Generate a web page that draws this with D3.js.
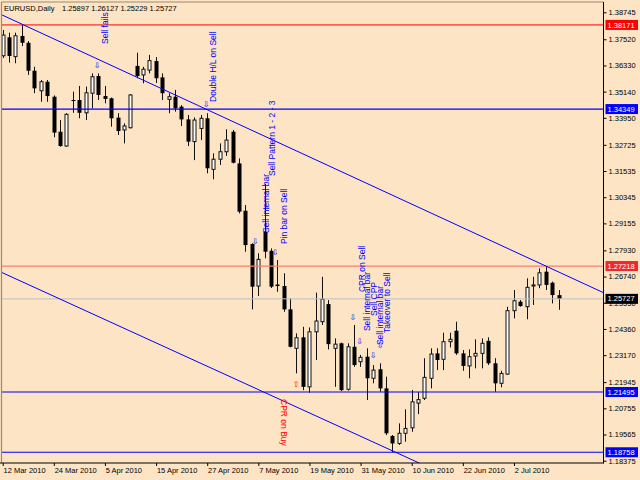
<!DOCTYPE html>
<html><head><meta charset="utf-8">
<script src="https://cdn.jsdelivr.net/npm/d3@7"></script>
<style>html,body{margin:0;padding:0;background:#FDE4C4;} svg{display:block;font-family:"Liberation Sans",Arial,sans-serif;}</style>
</head><body><svg id="c" width="640" height="480"></svg>
<script>
// ---------- data ----------
const symbolTitle = "EURUSD,Daily";
const lastQuote = ["1.25897", "1.26127", "1.25229", "1.25727"];
const opens = [1.3677,1.3761,1.3673,1.3767,1.3736,1.3609,1.3518,1.3559,1.3491,1.3332,
  1.3267,1.3476,1.3476,1.3418,1.3507,1.3585,1.3494,1.3484,1.3396,1.3340,
  1.3350,1.3631,1.3590,1.3612,1.3653,1.3579,1.3479,1.3491,1.3446,1.3388,
  1.3287,1.3347,1.3393,1.3161,1.3207,1.3241,1.3332,1.3188,1.2973,1.2822,
  1.2631,1.2878,1.2791,1.2638,1.2631,1.2525,1.2348,1.2398,1.2173,1.2423,
  1.2469,1.2549,1.2348,1.2371,1.2162,1.2355,1.2287,1.2310,1.2212,1.2253,
  1.2166,1.1950,1.1916,1.1962,1.1987,1.2099,1.2121,1.2212,1.2325,1.2298,
  1.2378,1.2428,1.2325,1.2268,1.2313,1.2325,1.2382,1.2280,1.2189,1.2231,
  1.2519,1.2560,1.2537,1.2631,1.2636,1.2696,1.2646,1.25897];
const highs = [1.3794,1.3782,1.3782,1.3817,1.3744,1.3627,1.3567,1.3567,1.3497,1.3385,
  1.3416,1.3514,1.3540,1.3537,1.3597,1.3597,1.3540,1.3487,1.3416,1.3370,
  1.3503,1.3691,1.3627,1.3681,1.3671,1.3597,1.3507,1.3522,1.3453,1.3408,
  1.3397,1.3408,1.3416,1.3234,1.3279,1.3343,1.3340,1.3211,1.2999,1.2825,
  1.2780,1.3095,1.2802,1.2749,1.2689,1.2575,1.2416,1.2446,1.2443,1.2601,
  1.2673,1.2567,1.2393,1.2374,1.2371,1.2454,1.2318,1.2348,1.2272,1.2280,
  1.2219,1.1954,1.2007,1.2071,1.2159,1.2149,1.2303,1.2348,1.2348,1.2419,
  1.2419,1.2469,1.2340,1.2343,1.2389,1.2393,1.2398,1.2303,1.2246,1.2537,
  1.2613,1.2567,1.2666,1.2673,1.2711,1.2722,1.2651,1.26127];
const lows = [1.3667,1.3646,1.3643,1.3721,1.3590,1.3507,1.3468,1.3468,1.3307,1.3264,
  1.3264,1.3418,1.3393,1.3385,1.3438,1.3476,1.3461,1.3355,1.3317,1.3279,
  1.3347,1.3575,1.3552,1.3597,1.3553,1.3476,1.3416,1.3423,1.3358,1.3267,
  1.3203,1.3294,1.3143,1.3116,1.3181,1.3222,1.3188,1.2961,1.2787,1.2525,
  1.2586,1.2757,1.2622,1.2605,1.2514,1.2352,1.2234,1.2158,1.2146,1.2295,
  1.2454,1.2343,1.2173,1.2154,1.2156,1.2264,1.2264,1.2113,1.2189,1.2151,
  1.1954,1.1876,1.1909,1.1924,1.1969,1.2049,1.2113,1.2166,1.2249,1.2249,
  1.2352,1.2318,1.2246,1.2212,1.2257,1.2257,1.2272,1.2151,1.2171,1.2227,
  1.2484,1.2537,1.2480,1.2545,1.2621,1.2613,1.2552,1.25229];
const closes = [1.3771,1.3676,1.3768,1.3736,1.3609,1.3529,1.3559,1.3494,1.3328,1.3267,
  1.3411,1.3474,1.3418,1.3509,1.3582,1.3499,1.3481,1.3393,1.3335,1.3358,
  1.3499,1.3585,1.3616,1.3655,1.3575,1.3507,1.3491,1.3438,1.3388,1.3287,
  1.3385,1.3393,1.3166,1.3207,1.3241,1.3294,1.3191,1.2969,1.2817,1.2628,
  1.2752,1.2787,1.2628,1.2631,1.2525,1.2355,1.2396,1.2173,1.2423,1.2472,
  1.2571,1.2367,1.2367,1.2158,1.2355,1.2272,1.2307,1.2212,1.2249,1.2166,
  1.1962,1.1916,1.1962,1.1984,1.2105,1.2115,1.2216,1.2322,1.2295,1.2378,
  1.2389,1.2325,1.2268,1.2310,1.2325,1.2371,1.2280,1.2189,1.2234,1.2519,
  1.2564,1.2540,1.2625,1.2636,1.2691,1.2636,1.2590,1.25727];
// date ticks: bar index of each label, and label text
const dateTickBars = [0, 8, 16, 24, 32, 40, 48, 56, 64, 72, 80];
const dateTickLabels = ["12 Mar 2010","24 Mar 2010","5 Apr 2010","15 Apr 2010","27 Apr 2010",
  "7 May 2010","19 May 2010","31 May 2010","10 Jun 2010","22 Jun 2010","2 Jul 2010"];
const priceTicks = [1.38745,1.37520,1.36330,1.35140,1.33950,1.32725,1.31535,1.30345,1.29155,
  1.27930,1.26740,1.25550,1.24360,1.23170,1.21945,1.20755,1.19565,1.18375];
// horizontal levels
const resistanceLevels = [1.38171, 1.27218];
const supportLevels = [1.34349, 1.21495, 1.18758];
const bidPrice = 1.25727;
// trend channel: two anchor points [bar, price] per line
const channelUpper = [[0, 1.38604], [87, 1.26941]];
const channelLower = [[0, 1.26901], [64, 1.18418]];
// pattern annotations: text, bar position, price position
const noteTexts = ["Sell fails","Double H/L on Sell","Sell Pattern 1 - 2 - 3","Sell internal bar",
  "Pin bar on Sell","CPR on Sell","Sell internal bar","Sell CPP","Sell internal bar","Takeover to Sell","CPR on Buy"];
const noteBars = [16.43, 33.33, 42.57, 41.55, 44.37, 56.57, 57.43, 58.45, 59.47, 60.56, 44.6];
const notePrices = [1.37305, 1.34670, 1.31307, 1.28718, 1.28218, 1.26037, 1.24265, 1.24947, 1.23629, 1.24174, 1.21176];
const arrowBars = [14.71, 31.77, 39.44, 42.57, 54.73, 55.79, 57.9, 59.0, 45.85];
const arrowPrices = [1.36351, 1.34579, 1.28354, 1.27855, 1.24901, 1.23811, 1.23175, 1.23629, 1.21857];
const arrowSides = ["sell","sell","sell","sell","sell","sell","sell","sell","buy"];

// ---------- chart ----------
const svg = d3.select("#c");
const P = {left: 1.5, right: 603.5, top: 2, bottom: 463};
const x = d3.scaleLinear().domain([0, 87]).range([3, 559]);
const y = d3.scaleLinear().domain([1.38745, 1.18375]).range([12.3, 460.7]);
const BLUE = "#0000FF";

svg.append("rect").attr("width", 640).attr("height", 480).attr("fill", "#FDE4C4");
svg.append("defs").append("clipPath").attr("id", "pc")
  .append("rect").attr("x", P.left).attr("y", P.top).attr("width", P.right - P.left).attr("height", P.bottom - P.top);

const g = svg.append("g").attr("clip-path", "url(#pc)");

// candles
const bars = d3.range(opens.length).map(i => ({i, o: opens[i], h: highs[i], l: lows[i], c: closes[i]}));
const cg = g.append("g");
bars.forEach(d => {
  const xc = Math.floor(x(d.i));
  cg.append("line").attr("x1", xc + 0.5).attr("x2", xc + 0.5)
    .attr("y1", y(d.h)).attr("y2", y(d.l)).attr("stroke", "#111").attr("stroke-width", 1);
  const top = y(Math.max(d.o, d.c)), bot = y(Math.min(d.o, d.c));
  if (d.c >= d.o) {
    cg.append("rect").attr("x", xc - 1).attr("width", 3)
      .attr("y", top).attr("height", Math.max(1, bot - top))
      .attr("fill", "#fff").attr("stroke", "#111").attr("stroke-width", 1);
  } else {
    cg.append("rect").attr("x", xc - 1.5).attr("width", 4)
      .attr("y", top).attr("height", Math.max(1, bot - top)).attr("fill", "#000");
  }
});

// horizontal levels
const hline = (p, col, w) => g.append("line").attr("x1", P.left).attr("x2", P.right)
  .attr("y1", y(p)).attr("y2", y(p)).attr("stroke", col).attr("stroke-width", w);
hline(bidPrice, "#C0C0C0", 1);
hline(resistanceLevels[0], "#FF0000", 1);
hline(resistanceLevels[1], "#F4806C", 1.3);
supportLevels.forEach(p => hline(p, BLUE, 1.2));

// channel lines extended across the plot
function extLine(pts) {
  const [[i1, p1], [i2, p2]] = pts;
  const x1 = x(i1), y1 = y(p1), x2 = x(i2), y2 = y(p2);
  const m = (y2 - y1) / (x2 - x1);
  g.append("line").attr("x1", 0).attr("y1", y1 - m * x1)
    .attr("x2", 610).attr("y2", y1 + m * (610 - x1))
    .attr("stroke", BLUE).attr("stroke-width", 1);
}
extLine(channelUpper);
extLine(channelLower);

// annotations
noteTexts.forEach((t, k) => {
  const isBuy = /Buy/.test(t);
  g.append("text").text(t)
    .attr("transform", `translate(${x(noteBars[k])},${y(notePrices[k])}) rotate(${isBuy ? 90 : -90})`)
    .attr("font-size", 8.5).attr("fill", isBuy ? "#FF0000" : BLUE)
    .attr("dy", isBuy ? "0.8em" : 0);
});
arrowBars.forEach((b, k) => {
  const buy = arrowSides[k] === "buy";
  g.append("text").text(buy ? "⇧" : "⇩")
    .attr("x", x(b)).attr("y", y(arrowPrices[k])).attr("dy", "0.35em")
    .attr("text-anchor", "middle").attr("font-family", "DejaVu Sans")
    .attr("font-size", 8).attr("fill", buy ? "#FF0000" : BLUE);
});

// frame
svg.append("line").attr("x1", P.left).attr("x2", P.right).attr("y1", P.top).attr("y2", P.top)
  .attr("stroke", "#9C8A76").attr("stroke-width", 1.2);
svg.append("line").attr("x1", P.left).attr("x2", P.left).attr("y1", P.top).attr("y2", P.bottom)
  .attr("stroke", "#9C8A76").attr("stroke-width", 1.2);
svg.append("line").attr("x1", P.right).attr("x2", P.right).attr("y1", P.top).attr("y2", P.bottom + 0.5)
  .attr("stroke", "#000").attr("stroke-width", 1);
svg.append("line").attr("x1", 0).attr("x2", P.right).attr("y1", P.bottom).attr("y2", P.bottom)
  .attr("stroke", "#000").attr("stroke-width", 1);

// price axis
const ya = svg.append("g").attr("transform", `translate(${P.right},0)`)
  .call(d3.axisRight(y).tickValues(priceTicks).tickSize(3).tickSizeOuter(0).tickPadding(2)
    .tickFormat(d => d.toFixed(5)));
ya.select(".domain").remove();
ya.selectAll("line").attr("stroke", "#000");
ya.selectAll("text").attr("font-size", 7.5).attr("font-family", "Liberation Sans, Arial").attr("fill", "#000");

// date axis
const xa = svg.append("g").attr("transform", `translate(0,${P.bottom})`)
  .call(d3.axisBottom(x).tickValues(dateTickBars).tickSize(3).tickSizeOuter(0)
    .tickFormat((d, k) => dateTickLabels[k]));
xa.select(".domain").remove();
xa.selectAll(".tick line").attr("stroke", "#000").attr("transform", "translate(-0.3,0)");
xa.selectAll("text").attr("text-anchor", "start").attr("x", 0).attr("y", 5).attr("dy", "0.71em")
  .attr("font-size", 7.5).attr("font-family", "Liberation Sans, Arial").attr("fill", "#000");

// price labels on the axis
function tag(p, bg) {
  const yy = y(p);
  svg.append("rect").attr("x", 605.5).attr("y", yy - 5).attr("width", 32.5).attr("height", 10).attr("fill", bg);
  svg.append("text").text(p.toFixed(5)).attr("x", 607.5).attr("y", yy).attr("dy", "0.35em")
    .attr("font-size", 7.5).attr("fill", "#fff");
}
tag(resistanceLevels[0], "#FF0000");
tag(resistanceLevels[1], "#F02828");
supportLevels.forEach(p => tag(p, BLUE));
tag(bidPrice, "#000");

// header
svg.append("text").text(symbolTitle).attr("x", 4).attr("y", 11).attr("font-size", 7.5).attr("fill", "#000");
svg.append("text").text(lastQuote.join(" ")).attr("x", 62).attr("y", 11).attr("font-size", 7.5).attr("fill", "#000");
</script>
</body></html>
